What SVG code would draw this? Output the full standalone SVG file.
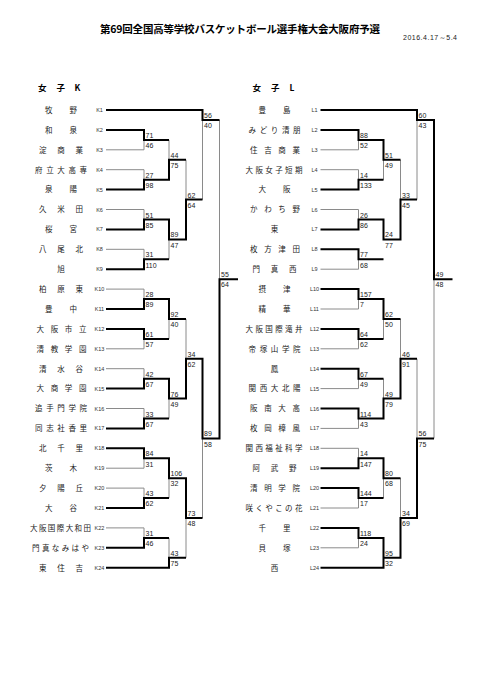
<svg xmlns="http://www.w3.org/2000/svg" width="481" height="680" viewBox="0 0 481 680">
<style>
.n{font-family:"Noto Sans CJK JP","Noto Sans CJK SC",sans-serif;font-size:7.5px;fill:#222}
.m{text-anchor:middle}
.c{font-family:"Liberation Sans",Arial,sans-serif;font-size:5.5px;fill:#333;text-anchor:middle}
.s{font-family:"Liberation Sans",Arial,sans-serif;font-size:7px;fill:#222}
.h{font-family:"Noto Sans CJK JP","Noto Sans CJK SC",sans-serif;font-weight:bold;fill:#000}
.k{fill:none;stroke:#000;stroke-width:2}
.t{fill:none;stroke:#8a8a8a;stroke-width:1}
</style>
<rect width="481" height="680" fill="#fff"/>
<g id="header">
<text class="h" x="100" y="33" font-size="10.5" textLength="280">第69回全国高等学校バスケットボール選手権大会大阪府予選</text>
<text x="403" y="39.5" font-family="Liberation Sans, Arial, sans-serif" font-size="7" fill="#222" textLength="54">2016.4.17～5.4</text>
<text class="h" x="38 56.5 74.5" y="90.5" font-size="8.5">女子K</text>
<text class="h" x="252.5 271 289.5" y="90.5" font-size="8.5">女子L</text>
</g>
<g id="connectors">
<path class="t" d="M106 149.8H144M106 169.7H144M106 209.5H144M106 249.3H144M106 289.1H144M106 348.8H144M106 368.7H144M106 408.5H144M106 468.2H144M106 488.1H144M106 527.9H144
M144 139.9V149.8M144 169.7V179.7M169 139.9V159.8M144 209.5V219.5M144 249.3V259.3M169 239.4V259.3M186 159.8V199.6M202.5 120V199.6M144 289.1V299.1M144 338.9V348.8M169 319V338.9M144 368.7V378.7M144 408.5V418.5M169 398.6V418.5M186 319V358.8M144 458.3V468.2M144 488.1V498.1M169 478.2V498.1M144 527.9V537.9M169 537.9V557.8M186 518V557.8M202.5 438.4V518M219.5 120V279.2"/>
<path class="t" d="M320.5 149.8H358.5M320.5 169.7H358.5M320.5 209.5H358.5M320.5 269.2H358.5M320.5 309H358.5M320.5 348.8H358.5M320.5 388.6H358.5M320.5 428.4H358.5M320.5 448.3H358.5M320.5 508H358.5M320.5 547.8H358.5
M358.5 139.9V149.8M358.5 169.7V179.7M383.5 159.8V179.7M358.5 209.5V219.5M358.5 259.3V269.2M383.5 219.5V239.4M400.5 159.8V199.6M417 120V199.6M358.5 299.1V309M358.5 338.9V348.8M383.5 319V338.9M358.5 378.7V388.6M358.5 418.5V428.4M383.5 378.7V398.6M400.5 319V358.8M358.5 448.3V458.3M358.5 498.1V508M383.5 478.2V498.1M358.5 537.9V547.8M400.5 478.2V518M417 358.8V438.4M434 279.2V438.4"/>
<path class="k" d="M106 110H202.5V120H219.5M106 129.9H144V139.9H169M106 189.6H144V179.7H169V159.8H186M106 229.4H144V219.5H169V239.4H186V199.6H202.5M106 269.2H144V259.3H169M106 309H144V299.1H169V319H186M106 328.9H144V338.9H169M106 388.6H144V378.7H169V398.6H186V358.8H202.5V438.4H219.5V279.2H238M106 428.4H144V418.5H169M106 448.3H144V458.3H169V478.2H186V518H202.5M106 508H144V498.1H169M106 547.8H144V537.9H169M106 567.7H169V557.8H186"/>
<path class="k" d="M320.5 110H417V120H434V279.2H452.5M320.5 129.9H358.5V139.9H383.5V159.8H400.5M320.5 189.6H358.5V179.7H383.5M320.5 229.4H358.5V219.5H383.5V239.4H400.5V199.6H417M320.5 249.3H358.5V259.3H383.5M320.5 289.1H358.5V299.1H383.5V319H400.5M320.5 328.9H358.5V338.9H383.5M320.5 368.7H358.5V378.7H383.5M320.5 408.5H358.5V418.5H383.5V398.6H400.5V358.8H417M320.5 468.2H358.5V458.3H383.5V478.2H400.5M320.5 488.1H358.5V498.1H383.5M320.5 527.9H358.5V537.9H383.5V557.8H400.5V518H417V438.4H434M320.5 567.7H383.5V557.8"/>
</g>
<g id="scores">
<text class="s" x="145.5" y="137.9">71</text><text class="s" x="145.5" y="148.1">46</text>
<text class="s" x="145.5" y="177.7">27</text><text class="s" x="145.5" y="187.9">98</text>
<text class="s" x="170.5" y="157.8">44</text><text class="s" x="170.5" y="168">75</text>
<text class="s" x="145.5" y="217.5">51</text><text class="s" x="145.5" y="227.7">85</text>
<text class="s" x="145.5" y="257.3">31</text><text class="s" x="145.5" y="267.5">110</text>
<text class="s" x="170.5" y="237.4">89</text><text class="s" x="170.5" y="247.6">47</text>
<text class="s" x="187.5" y="197.6">62</text><text class="s" x="187.5" y="207.8">64</text>
<text class="s" x="204" y="118">56</text><text class="s" x="204" y="128.2">40</text>
<text class="s" x="145.5" y="297.1">28</text><text class="s" x="145.5" y="307.3">89</text>
<text class="s" x="145.5" y="336.9">61</text><text class="s" x="145.5" y="347.1">57</text>
<text class="s" x="170.5" y="317">92</text><text class="s" x="170.5" y="327.2">40</text>
<text class="s" x="145.5" y="376.7">42</text><text class="s" x="145.5" y="386.9">67</text>
<text class="s" x="145.5" y="416.5">33</text><text class="s" x="145.5" y="426.7">67</text>
<text class="s" x="170.5" y="396.6">76</text><text class="s" x="170.5" y="406.8">49</text>
<text class="s" x="187.5" y="356.8">34</text><text class="s" x="187.5" y="367">62</text>
<text class="s" x="145.5" y="456.3">84</text><text class="s" x="145.5" y="466.5">31</text>
<text class="s" x="145.5" y="496.1">43</text><text class="s" x="145.5" y="506.3">62</text>
<text class="s" x="170.5" y="476.2">106</text><text class="s" x="170.5" y="486.4">32</text>
<text class="s" x="145.5" y="535.9">31</text><text class="s" x="145.5" y="546.1">46</text>
<text class="s" x="170.5" y="555.8">43</text><text class="s" x="170.5" y="566">75</text>
<text class="s" x="187.5" y="516">73</text><text class="s" x="187.5" y="526.2">48</text>
<text class="s" x="204" y="436.4">89</text><text class="s" x="204" y="446.6">58</text>
<text class="s" x="221" y="277.2">55</text><text class="s" x="221" y="287.4">64</text>
<text class="s" x="360" y="137.9">88</text><text class="s" x="360" y="148.1">52</text>
<text class="s" x="360" y="177.7">14</text><text class="s" x="360" y="187.9">133</text>
<text class="s" x="385" y="157.8">51</text><text class="s" x="385" y="168">49</text>
<text class="s" x="360" y="217.5">26</text><text class="s" x="360" y="227.7">86</text>
<text class="s" x="360" y="257.3">77</text><text class="s" x="360" y="267.5">68</text>
<text class="s" x="385" y="237.4">24</text><text class="s" x="385" y="247.6">77</text>
<text class="s" x="402" y="197.6">33</text><text class="s" x="402" y="207.8">45</text>
<text class="s" x="418.5" y="118">60</text><text class="s" x="418.5" y="128.2">43</text>
<text class="s" x="360" y="297.1">157</text><text class="s" x="360" y="307.3">7</text>
<text class="s" x="360" y="336.9">64</text><text class="s" x="360" y="347.1">62</text>
<text class="s" x="385" y="317">62</text><text class="s" x="385" y="327.2">50</text>
<text class="s" x="360" y="376.7">67</text><text class="s" x="360" y="386.9">49</text>
<text class="s" x="360" y="416.5">114</text><text class="s" x="360" y="426.7">43</text>
<text class="s" x="385" y="396.6">49</text><text class="s" x="385" y="406.8">79</text>
<text class="s" x="402" y="356.8">46</text><text class="s" x="402" y="367">91</text>
<text class="s" x="360" y="456.3">14</text><text class="s" x="360" y="466.5">147</text>
<text class="s" x="360" y="496.1">144</text><text class="s" x="360" y="506.3">17</text>
<text class="s" x="385" y="476.2">80</text><text class="s" x="385" y="486.4">68</text>
<text class="s" x="360" y="535.9">118</text><text class="s" x="360" y="546.1">24</text>
<text class="s" x="385" y="555.8">95</text><text class="s" x="385" y="566">32</text>
<text class="s" x="402" y="516">34</text><text class="s" x="402" y="526.2">69</text>
<text class="s" x="418.5" y="436.4">56</text><text class="s" x="418.5" y="446.6">75</text>
<text class="s" x="435.5" y="277.2">49</text><text class="s" x="435.5" y="287.4">48</text>
</g>
<g id="K1"><text class="n" x="45" y="112.8" textLength="32">牧野</text><text class="c" x="99.5" y="112">K1</text></g>
<g id="K2"><text class="n" x="45" y="132.7" textLength="32">和泉</text><text class="c" x="99.5" y="131.9">K2</text></g>
<g id="K3"><text class="n" x="39" y="152.6" textLength="44">淀商業</text><text class="c" x="99.5" y="151.8">K3</text></g>
<g id="K4"><text class="n" x="35" y="172.5" textLength="52">府立大高専</text><text class="c" x="99.5" y="171.7">K4</text></g>
<g id="K5"><text class="n" x="45" y="192.4" textLength="32">泉陽</text><text class="c" x="99.5" y="191.6">K5</text></g>
<g id="K6"><text class="n" x="39" y="212.3" textLength="44">久米田</text><text class="c" x="99.5" y="211.5">K6</text></g>
<g id="K7"><text class="n" x="45" y="232.2" textLength="32">桜宮</text><text class="c" x="99.5" y="231.4">K7</text></g>
<g id="K8"><text class="n" x="39" y="252.1" textLength="44">八尾北</text><text class="c" x="99.5" y="251.3">K8</text></g>
<g id="K9"><text class="n m" x="61" y="272">旭</text><text class="c" x="99.5" y="271.2">K9</text></g>
<g id="K10"><text class="n" x="39" y="291.9" textLength="44">柏原東</text><text class="c" x="99.5" y="291.1">K10</text></g>
<g id="K11"><text class="n" x="45" y="311.8" textLength="32">豊中</text><text class="c" x="99.5" y="311">K11</text></g>
<g id="K12"><text class="n" x="36.5" y="331.7" textLength="50">大阪市立</text><text class="c" x="99.5" y="330.9">K12</text></g>
<g id="K13"><text class="n" x="36.5" y="351.6" textLength="50">清教学園</text><text class="c" x="99.5" y="350.8">K13</text></g>
<g id="K14"><text class="n" x="39" y="371.5" textLength="44">清水谷</text><text class="c" x="99.5" y="370.7">K14</text></g>
<g id="K15"><text class="n" x="36.5" y="391.4" textLength="50">大商学園</text><text class="c" x="99.5" y="390.6">K15</text></g>
<g id="K16"><text class="n" x="35" y="411.3" textLength="52">追手門学院</text><text class="c" x="99.5" y="410.5">K16</text></g>
<g id="K17"><text class="n" x="35" y="431.2" textLength="52">同志社香里</text><text class="c" x="99.5" y="430.4">K17</text></g>
<g id="K18"><text class="n" x="39" y="451.1" textLength="44">北千里</text><text class="c" x="99.5" y="450.3">K18</text></g>
<g id="K19"><text class="n" x="45" y="471" textLength="32">茨木</text><text class="c" x="99.5" y="470.2">K19</text></g>
<g id="K20"><text class="n" x="39" y="490.9" textLength="44">夕陽丘</text><text class="c" x="99.5" y="490.1">K20</text></g>
<g id="K21"><text class="n" x="45" y="510.8" textLength="32">大谷</text><text class="c" x="99.5" y="510">K21</text></g>
<g id="K22"><text class="n" x="30" y="530.7" textLength="61">大阪国際大和田</text><text class="c" x="99.5" y="529.9">K22</text></g>
<g id="K23"><text class="n" x="32" y="550.6" textLength="57">門真なみはや</text><text class="c" x="99.5" y="549.8">K23</text></g>
<g id="K24"><text class="n" x="39" y="570.5" textLength="44">東住吉</text><text class="c" x="99.5" y="569.7">K24</text></g>
<g id="L1"><text class="n" x="258.5" y="112.8" textLength="32">豊島</text><text class="c" x="314.5" y="112">L1</text></g>
<g id="L2"><text class="n" x="248.5" y="132.7" textLength="52">みどり清朋</text><text class="c" x="314.5" y="131.9">L2</text></g>
<g id="L3"><text class="n" x="250" y="152.6" textLength="50">住吉商業</text><text class="c" x="314.5" y="151.8">L3</text></g>
<g id="L4"><text class="n" x="245.5" y="172.5" textLength="57">大阪女子短期</text><text class="c" x="314.5" y="171.7">L4</text></g>
<g id="L5"><text class="n" x="258.5" y="192.4" textLength="32">大阪</text><text class="c" x="314.5" y="191.6">L5</text></g>
<g id="L6"><text class="n" x="250" y="212.3" textLength="50">かわち野</text><text class="c" x="314.5" y="211.5">L6</text></g>
<g id="L7"><text class="n m" x="274.5" y="232.2">東</text><text class="c" x="314.5" y="231.4">L7</text></g>
<g id="L8"><text class="n" x="250" y="252.1" textLength="50">枚方津田</text><text class="c" x="314.5" y="251.3">L8</text></g>
<g id="L9"><text class="n" x="252.5" y="272" textLength="44">門真西</text><text class="c" x="314.5" y="271.2">L9</text></g>
<g id="L10"><text class="n" x="258.5" y="291.9" textLength="32">摂津</text><text class="c" x="314.5" y="291.1">L10</text></g>
<g id="L11"><text class="n" x="258.5" y="311.8" textLength="32">精華</text><text class="c" x="314.5" y="311">L11</text></g>
<g id="L12"><text class="n" x="245.5" y="331.7" textLength="57">大阪国際滝井</text><text class="c" x="314.5" y="330.9">L12</text></g>
<g id="L13"><text class="n" x="248.5" y="351.6" textLength="52">帝塚山学院</text><text class="c" x="314.5" y="350.8">L13</text></g>
<g id="L14"><text class="n m" x="274.5" y="371.5">鳳</text><text class="c" x="314.5" y="370.7">L14</text></g>
<g id="L15"><text class="n" x="248.5" y="391.4" textLength="52">関西大北陽</text><text class="c" x="314.5" y="390.6">L15</text></g>
<g id="L16"><text class="n" x="250" y="411.3" textLength="50">阪南大高</text><text class="c" x="314.5" y="410.5">L16</text></g>
<g id="L17"><text class="n" x="250" y="431.2" textLength="50">枚岡樟風</text><text class="c" x="314.5" y="430.4">L17</text></g>
<g id="L18"><text class="n" x="245.5" y="451.1" textLength="57">関西福祉科学</text><text class="c" x="314.5" y="450.3">L18</text></g>
<g id="L19"><text class="n" x="252.5" y="471" textLength="44">阿武野</text><text class="c" x="314.5" y="470.2">L19</text></g>
<g id="L20"><text class="n" x="250" y="490.9" textLength="50">清明学院</text><text class="c" x="314.5" y="490.1">L20</text></g>
<g id="L21"><text class="n" x="245.5" y="510.8" textLength="57">咲くやこの花</text><text class="c" x="314.5" y="510">L21</text></g>
<g id="L22"><text class="n" x="258.5" y="530.7" textLength="32">千里</text><text class="c" x="314.5" y="529.9">L22</text></g>
<g id="L23"><text class="n" x="258.5" y="550.6" textLength="32">貝塚</text><text class="c" x="314.5" y="549.8">L23</text></g>
<g id="L24"><text class="n m" x="274.5" y="570.5">西</text><text class="c" x="314.5" y="569.7">L24</text></g>
</svg>
